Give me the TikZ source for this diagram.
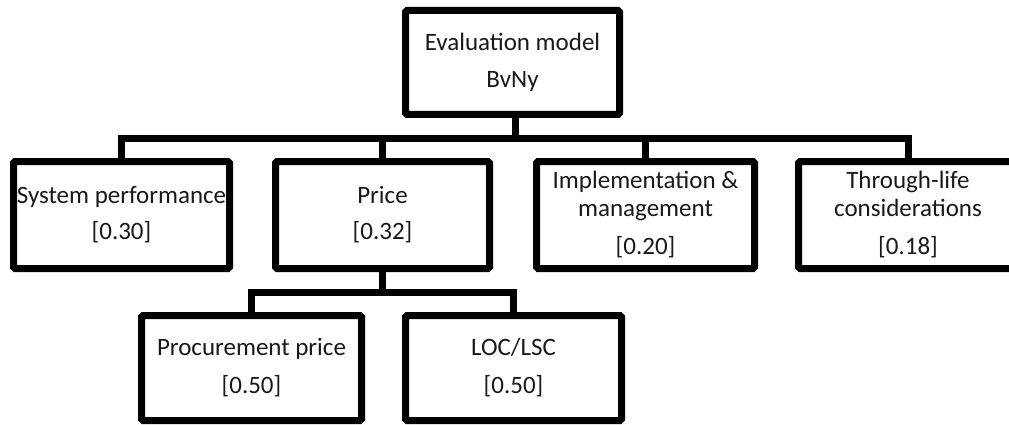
\documentclass[tikz,border=0pt]{standalone}
\usepackage{fontspec}
\setmainfont{Carlito}
\begin{document}
\begin{tikzpicture}[x=1pt,y=-1pt,
  box/.style={draw=black,line width=7pt,fill=white,rounded corners=1.5pt,align=center,inner sep=0pt,
    font=\fontsize{25}{36}\selectfont,text=black!90},
  conn/.style={draw=black,line width=7pt}]
\useasboundingbox (0,0) rectangle (1009,425);
\clip (0,0) rectangle (1009,425);
\fill[white] (0,0) rectangle (1009,425);
\coordinate (bus1) at (0,138.5);
\coordinate (bus2) at (0,292.5);
\node[box,minimum width=214pt,minimum height=104pt] (top) at (512.5,62.5) {Evaluation model\\[1pt]BvNy};
\node[box,minimum width=216pt,minimum height=107pt] (sys) at (121.5,215) {System performance\\{[0.30]}};
\node[box,minimum width=214pt,minimum height=107pt] (price) at (382.5,215) {Price\\{[0.32]}};
\node[box,minimum width=218pt,minimum height=107pt,font=\fontsize{25}{28}\selectfont] (impl) at (645.5,215) {Implementation \&\\management\\[10pt]{[0.20]}};
\node[box,minimum width=219pt,minimum height=107pt,font=\fontsize{25}{28}\selectfont] (life) at (908,215) {Through-life\\considerations\\[10pt]{[0.18]}};
\node[box,minimum width=220pt,minimum height=105pt] (proc) at (251.5,368) {Procurement price\\[2pt]{[0.50]}};
\node[box,minimum width=216pt,minimum height=105pt] (loc) at (513.5,368) {LOC/LSC\\[2pt]{[0.50]}};
\draw[conn] ([xshift=2.5pt]top.south) -- ([xshift=2.5pt]top.south |- bus1);
\draw[conn] (sys.north) |- (life.north |- bus1) -- (life.north);
\draw[conn] (price.north) -- (price.north |- bus1);
\draw[conn] (impl.north) -- (impl.north |- bus1);
\draw[conn] (price.south) -- (price.south |- bus2);
\draw[conn] (proc.north) |- (loc.north |- bus2) -- (loc.north);
\end{tikzpicture}
\end{document}
